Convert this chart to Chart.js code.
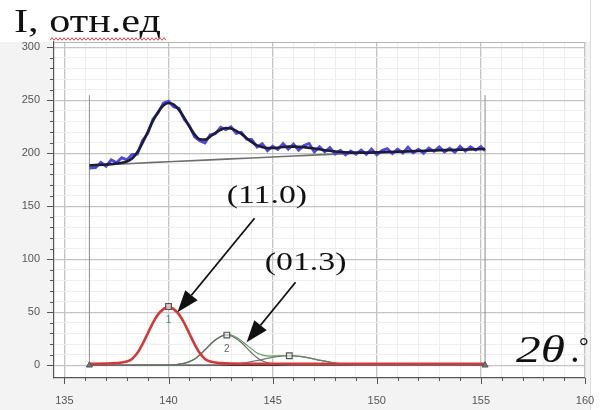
<!DOCTYPE html>
<html>
<head>
<meta charset="utf-8">
<script src="https://cdn.jsdelivr.net/npm/chart.js@4.4.1/dist/chart.umd.min.js"></script>
<style>
  body { margin: 0; background: #fff; }
  #plot { display: block; }
</style>
</head>
<body>
<canvas id="plot" width="600" height="410"></canvas>
<script>
// measured profile (blue) and its fit (black)
const expTheta = [136.2,136.5,136.75,137,137.25,137.5,137.75,138,138.25,138.5,138.75,139,139.25,139.5,139.75,140,140.25,140.5,140.75,141,141.25,141.5,141.75,142,142.25,142.5,142.75,143,143.25,143.5,143.75,144,144.25,144.5,144.75,145,145.25,145.5,145.75,146,146.25,146.5,146.75,147,147.25,147.5,147.75,148,148.25,148.5,148.75,149,149.25,149.5,149.75,150,150.25,150.5,150.75,151,151.25,151.5,151.75,152,152.25,152.5,152.75,153,153.25,153.5,153.75,154,154.25,154.5,154.75,155,155.2];
const expCounts = [186.1,186.4,191.5,187.8,193.8,191.1,195.8,193.8,199,199.3,
  212.1,218.5,232.1,238.2,247.4,249.1,243.6,242.6,232.1,226.1,
  215.5,211.7,209.7,217.4,218.4,224.5,222.2,225,218.8,219.9,
  213.4,213,205.8,209,202.5,206.6,203.7,209.15,203.9,208.7,
  202.9,207.45,209.2,201.3,206.1,201.25,205.5,199.3,202.9,198.5,
  202.3,199,203,199.05,204,198.5,202.7,204.4,199.7,203.9,
  200.1,205.85,200.4,203.8,199.95,204.9,201.85,206,201.35,204.7,
  200.85,206.6,201.95,206.1,203,206.3,202.4];

const fitTheta = [136.2,136.5,137,137.5,138,138.25,138.5,138.75,139,139.25,139.5,139.75,140,140.25,140.5,140.75,141,141.25,141.5,141.75,142,142.25,142.5,142.75,143,143.25,143.5,143.75,144,144.25,144.5,144.75,145,145.25,145.5,145.75,146,146.5,147,147.5,148,148.5,149,149.5,150,151,152,153,154,155.2];
const fitCounts = [188.5,188.8,189.4,190.3,192.2,195,200.9,209.7,220.1,230.5,239,245,247.5,246,241,233.7,225.3,217.9,213.3,212.9,215.8,219.2,222.1,223.8,223.4,221.2,218.3,214.2,210.6,207.4,205.8,204.9,205,205.3,205.95,206.3,206.3,205.85,204.5,202.85,201.7,200.9,200.6,200.65,200.9,201.5,202.2,202.8,203.4,204];

// background line
const bgTheta = [136.2,138,140,142,144,146,148,150,152,155.2];
const bgCounts = [188.5,190.2,192,193.8,195.6,197.4,199.2,200.8,202.2,204];

// separated components
const p1Theta = [136.2,137,137.5,138,138.25,138.5,138.75,139,139.25,139.5,139.75,140,140.25,140.5,140.75,141,141.25,141.5,141.75,142,142.5,143,144,155.2];
const p1Counts = [1.5,1.6,2,3.5,6,11.5,20,30,40,48,53,55.5,53,48,40,30,20,11.5,6,3.5,2,1.6,1.5,1.5];
const p2Theta = [136.2,139.8,140.3,140.8,141.05,141.3,141.55,141.8,142.05,142.3,142.55,142.8,143.05,143.3,143.55,143.8,144.05,144.3,144.55,144.8,145.3,145.8,155.2];
const p2Counts = [0,0.1,0.5,2,3.8,6.5,10.5,15.5,20.5,24.5,27.4,28.5,27.4,24.5,20.5,15.5,10.5,6.5,3.8,2,0.5,0.1,0];
const p3Theta = [136.2,141.8,142.3,142.8,143.3,143.8,144.3,144.8,145.3,145.8,146.3,146.8,147.3,147.8,148.3,148.8,149.3,149.8,155.2];
const p3Counts = [0,0.05,0.2,0.6,1.4,2.8,4.6,6.7,8.4,9,8.4,6.7,4.6,2.8,1.4,0.6,0.2,0.05,0];
const sumTheta = [136.2,139.8,140.3,140.8,141.3,141.8,142.3,142.8,143.3,143.8,144.3,144.8,145.3,145.8,146.3,146.8,147.3,147.8,148.3,148.8,149.8,155.2];
const sumCounts = [0,0.1,0.5,2,6.6,15.55,24.7,29.1,25.9,18.3,11.1,8.7,8.9,9.1,8.4,6.7,4.6,2.8,1.4,0.6,0.05,0];

const peakCentres = [140.0, 142.8, 145.8];
const peakHeights = [55.5, 28.5, 9];
const peakNumbers = ['1', '2'];

const rangeLimits = [136.2, 155.2];
const rangeTop = 255;

const xTickLabels = [135, 140, 145, 150, 155, 160];
const yTickLabels = [0, 50, 100, 150, 200, 250, 300];

// hkl labels: text position, arrow tail, arrow tip
const hklLabels = ['(11.0)', '(01.3)'];
const hklTextPos = [[142.79, 152.8], [144.62, 89.6]];
const hklArrowFrom = [[144.13, 138.7], [146.1, 78.3]];
const hklArrowTo = [[140.43, 50], [143.75, 21.7]];

function pts(xs, ys) {
    return xs.map(function (x, i) { return { x: x, y: ys[i] }; });
}

var xMinor = [];
for (let v = 135; v <= 160; v++) xMinor.push(v);
var yMinor = [];
for (let v = 0; v <= 300; v += 10) yMinor.push(v);

const tickFont = { family: "'Liberation Sans', Arial, sans-serif", size: 11 };

function stretchedText(ctx, str, x, y, font, sx) {
    ctx.save();
    ctx.translate(x, y);
    ctx.scale(sx, 1);
    ctx.font = font;
    ctx.fillText(str, 0, 0);
    ctx.restore();
}

function arrow(ctx, x1, y1, x2, y2) {
    var a = Math.atan2(y2 - y1, x2 - x1);
    var len = 22, half = 8;
    var bx = x2 - len * Math.cos(a), by = y2 - len * Math.sin(a);
    ctx.beginPath();
    ctx.moveTo(x1, y1);
    ctx.lineTo(bx, by);
    ctx.stroke();
    ctx.beginPath();
    ctx.moveTo(x2, y2);
    ctx.lineTo(bx + half * Math.sin(a), by - half * Math.cos(a));
    ctx.lineTo(bx - half * Math.sin(a), by + half * Math.cos(a));
    ctx.closePath();
    ctx.fill();
}

const decor = {
    id: 'decor',
    beforeDraw(chart) {
        const { ctx, chartArea: a } = chart;
        ctx.save();
        ctx.fillStyle = '#ffffff';
        ctx.fillRect(0, 0, 600, 410);
        ctx.fillStyle = '#f3f3f3';
        ctx.fillRect(0, a.top, 590, 410 - a.top);
        ctx.fillStyle = '#ffffff';
        ctx.fillRect(a.left, a.top, a.right - a.left, a.bottom - a.top);
        ctx.strokeStyle = '#dcdcdc';
        ctx.beginPath();
        ctx.moveTo(590.5, 0);
        ctx.lineTo(590.5, 410);
        ctx.stroke();
        ctx.restore();
    },
    afterDraw(chart) {
        const { ctx, chartArea: a, scales: { x, y } } = chart;
        ctx.save();

        // frame top
        ctx.strokeStyle = '#b4b4b4';
        ctx.lineWidth = 1;
        ctx.beginPath();
        ctx.moveTo(a.left, a.top + 0.5);
        ctx.lineTo(a.right, a.top + 0.5);
        ctx.stroke();

        // tick marks
        ctx.strokeStyle = '#555';
        ctx.beginPath();
        yMinor.forEach(function (v) {
            var py = Math.round(y.getPixelForValue(v)) + 0.5;
            var len = v % 50 === 0 ? 7 : 4;
            ctx.moveTo(a.left - len, py);
            ctx.lineTo(a.left, py);
        });
        xMinor.forEach(function (v) {
            var px = Math.round(x.getPixelForValue(v)) + 0.5;
            var len = v % 5 === 0 ? 6 : 3;
            ctx.moveTo(px, a.bottom);
            ctx.lineTo(px, a.bottom + len);
        });
        ctx.stroke();

        // peak numbers under the markers
        ctx.font = "10px 'Liberation Sans', sans-serif";
        ctx.textAlign = 'center';
        peakNumbers.forEach(function (t, i) {
            ctx.fillStyle = i === 0 ? '#3c8c7c' : '#666';
            ctx.fillText(t, x.getPixelForValue(peakCentres[i]), y.getPixelForValue(peakHeights[i]) + 17);
        });

        // hkl labels with arrows
        ctx.textAlign = 'left';
        ctx.fillStyle = '#111';
        ctx.strokeStyle = '#111';
        ctx.lineWidth = 1.8;
        hklLabels.forEach(function (t, i) {
            stretchedText(ctx, t, x.getPixelForValue(hklTextPos[i][0]), y.getPixelForValue(hklTextPos[i][1]),
                "26px 'Liberation Serif', serif", 1.3);
            arrow(ctx, x.getPixelForValue(hklArrowFrom[i][0]), y.getPixelForValue(hklArrowFrom[i][1]),
                x.getPixelForValue(hklArrowTo[i][0]), y.getPixelForValue(hklArrowTo[i][1]));
        });

        // axis titles
        ctx.fillStyle = '#111';
        stretchedText(ctx, 'I, отн.ед', 14, 32, "33px 'Liberation Serif', serif", 1.28);
        stretchedText(ctx, '2\u03b8', 516, 362, "italic 38px 'Liberation Serif', serif", 1.3);
        ctx.font = "italic 38px 'Liberation Serif', serif";
        ctx.fillText('.', 571, 362);
        ctx.font = "24px 'Liberation Serif', serif";
        ctx.fillText('\u00b0', 579, 354);

        // spell-check squiggle under the units
        ctx.strokeStyle = '#d84a4a';
        ctx.lineWidth = 1;
        ctx.beginPath();
        for (let px = 50; px <= 166; px += 2) {
            var py = 39 + ((px / 2) % 2 === 0 ? -1.3 : 1.3);
            if (px === 50) ctx.moveTo(px, py); else ctx.lineTo(px, py);
        }
        ctx.stroke();
        ctx.restore();
    }
};

const lineSet = (data, color, width, order, extra) => Object.assign({
    data: data,
    borderColor: color,
    borderWidth: width,
    pointRadius: 0,
    fill: false,
    order: order,
    cubicInterpolationMode: 'monotone'
}, extra || {});

new Chart(document.getElementById('plot'), {
    type: 'line',
    data: {
        datasets: [
            lineSet(pts(fitTheta, fitCounts), '#1c1c38', 2.6, 1),
            lineSet(pts(expTheta, expCounts), '#5048dc', 2.8, 3, { tension: 0, cubicInterpolationMode: 'default' }),
            lineSet(pts(bgTheta, bgCounts), '#707070', 1.6, 4),
            lineSet(pts(p1Theta, p1Counts), '#d23a3a', 2.6, 2),
            lineSet(pts(p2Theta, p2Counts), '#6a6a6a', 1.2, 2),
            lineSet(pts(p3Theta, p3Counts), '#777777', 1.2, 3),
            lineSet(pts(sumTheta, sumCounts), '#5aa05a', 1.2, 4),
            lineSet(pts(rangeLimits, [0, 0]), '#3a3a3a', 1.4, 5),
            lineSet(pts([rangeLimits[0], rangeLimits[0]], [0, rangeTop]), '#8a8a8a', 1, 5),
            lineSet(pts([rangeLimits[1], rangeLimits[1]], [0, rangeTop]), '#8a8a8a', 1, 5),
            {
                data: pts(peakCentres, peakHeights),
                showLine: false,
                pointStyle: 'rect',
                pointRadius: 4,
                pointBorderWidth: 1.2,
                pointBorderColor: '#555',
                pointBackgroundColor: 'rgba(235,235,235,0.7)',
                order: 0
            },
            {
                data: pts(rangeLimits, [0, 0]),
                showLine: false,
                pointStyle: 'triangle',
                pointRadius: 3.5,
                pointBorderColor: '#555',
                pointBackgroundColor: '#777',
                order: 0
            }
        ]
    },
    options: {
        responsive: false,
        devicePixelRatio: 1,
        animation: false,
        layout: { padding: { left: 0, top: 42, right: 15, bottom: 0 } },
        plugins: { legend: { display: false }, tooltip: { enabled: false } },
        scales: {
            x: {
                type: 'linear',
                min: 134.5,
                max: 160,
                afterBuildTicks: (scale) => { scale.ticks = xMinor.map(v => ({ value: v })); },
                afterFit: (scale) => { scale.height = 32; },
                ticks: {
                    autoSkip: false,
                    maxRotation: 0,
                    padding: 2,
                    color: '#555',
                    font: tickFont,
                    callback: (v) => xTickLabels.includes(v) ? String(v) : ''
                },
                grid: {
                    drawTicks: true,
                    tickLength: 14,
                    tickColor: 'rgba(0,0,0,0)',
                    color: (c) => c.tick && c.tick.value % 5 === 0 ? '#c4c4c4' : '#eeeeee',
                    lineWidth: (c) => c.tick && c.tick.value % 5 === 0 ? 1.3 : 1
                },
                border: { color: '#555', width: 1.2 }
            },
            y: {
                type: 'linear',
                min: -12,
                max: 305,
                afterBuildTicks: (scale) => { scale.ticks = yMinor.map(v => ({ value: v })); },
                afterFit: (scale) => { scale.width = 54; },
                ticks: {
                    autoSkip: false,
                    padding: 14,
                    color: '#555',
                    font: tickFont,
                    callback: (v) => yTickLabels.includes(v) ? String(v) : ''
                },
                grid: {
                    drawTicks: false,
                    color: (c) => c.tick && c.tick.value % 50 === 0 ? '#c4c4c4' : '#eeeeee',
                    lineWidth: (c) => c.tick && c.tick.value % 50 === 0 ? 1.3 : 1
                },
                border: { color: '#555', width: 1.2 }
            }
        }
    },
    plugins: [decor]
});
</script>
</body>
</html>
